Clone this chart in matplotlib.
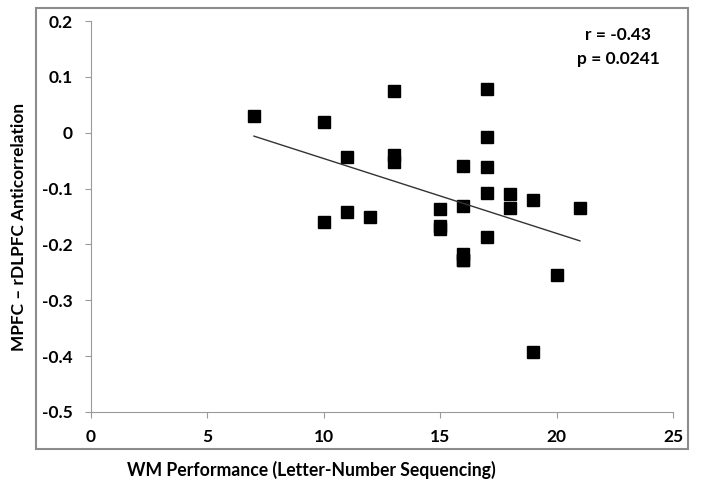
import matplotlib
matplotlib.use('Agg')
import matplotlib.pyplot as plt
from matplotlib.patches import Rectangle
import numpy as np

# WM performance (x) vs MPFC-rDLPFC anticorrelation (y)
wm_score = [7, 10, 10, 11, 11, 12, 13, 13, 13, 15, 15, 15, 16, 16, 16, 16, 16,
            17, 17, 17, 17, 17, 18, 18, 19, 19, 20, 21]
anticorr = [0.030, 0.020, -0.160, -0.043, -0.142, -0.150, 0.075, -0.040, -0.052,
            -0.137, -0.167, -0.172, -0.060, -0.132, -0.218, -0.228, -0.228,
            0.078, -0.008, -0.062, -0.108, -0.187, -0.110, -0.135, -0.120,
            -0.392, -0.255, -0.135]
x_ticks = [0, 5, 10, 15, 20, 25]
y_ticks = [0.2, 0.1, 0, -0.1, -0.2, -0.3, -0.4, -0.5]
stats_lines = ["r = -0.43", "p = 0.0241"]

plt.rcParams['font.family'] = ['Lato', 'DejaVu Sans']
axis_gray = '#9a9a9a'

fig = plt.figure(figsize=(7.01, 4.92), dpi=100)
W, H = 701, 492
ax = fig.add_axes([91 / W, 1 - 412 / H, 582 / W, 391 / H])

# outer chart border
fig.patches.append(Rectangle((36 / W, 1 - 449 / H), 652 / W, 441 / H,
                             transform=fig.transFigure, fill=False,
                             edgecolor='#8c8c8c', linewidth=1.5))

ax.plot(wm_score, anticorr, 's', color='black', markersize=8)

# linear trend line
slope, intercept = np.polyfit(wm_score, anticorr, 1)
xs = np.array([min(wm_score), max(wm_score)])
ax.plot(xs, slope * xs + intercept, color='#333333', linewidth=1)

ax.set_xlim(0, 25)
ax.set_ylim(-0.5, 0.2)
ax.set_xticks(x_ticks)
ax.set_yticks(y_ticks)
ax.set_xticklabels([str(t) for t in x_ticks], fontweight='bold', fontsize=12.5)
ax.set_yticklabels(['0' if t == 0 else f'{t:.1f}' for t in y_ticks],
                   fontweight='bold', fontsize=12.5)
ax.tick_params(axis='both', length=4, width=0.8, color=axis_gray)
ax.tick_params(axis='x', pad=8)
ax.tick_params(axis='y', pad=9)

for side in ['top', 'right']:
    ax.spines[side].set_visible(False)
for side in ['left', 'bottom']:
    ax.spines[side].set_color(axis_gray)
    ax.spines[side].set_linewidth(0.8)

fig.text(311 / W, 1 - 470 / H, 'WM Performance (Letter-Number Sequencing)',
         fontsize=12.7, fontweight='bold', ha='center', va='center')
fig.text(19 / W, 1 - 227 / H, 'MPFC \u2013 rDLPFC Anticorrelation',
         fontsize=12.4, fontweight='bold', ha='center', va='center',
         rotation=90)

fig.text(618 / W, 1 - 35 / H, stats_lines[0], ha='center', va='center',
         fontsize=12.5, fontweight='bold')
fig.text(618 / W, 1 - 59 / H, stats_lines[1], ha='center', va='center',
         fontsize=12.5, fontweight='bold')

fig.savefig('out.png', dpi=100)
